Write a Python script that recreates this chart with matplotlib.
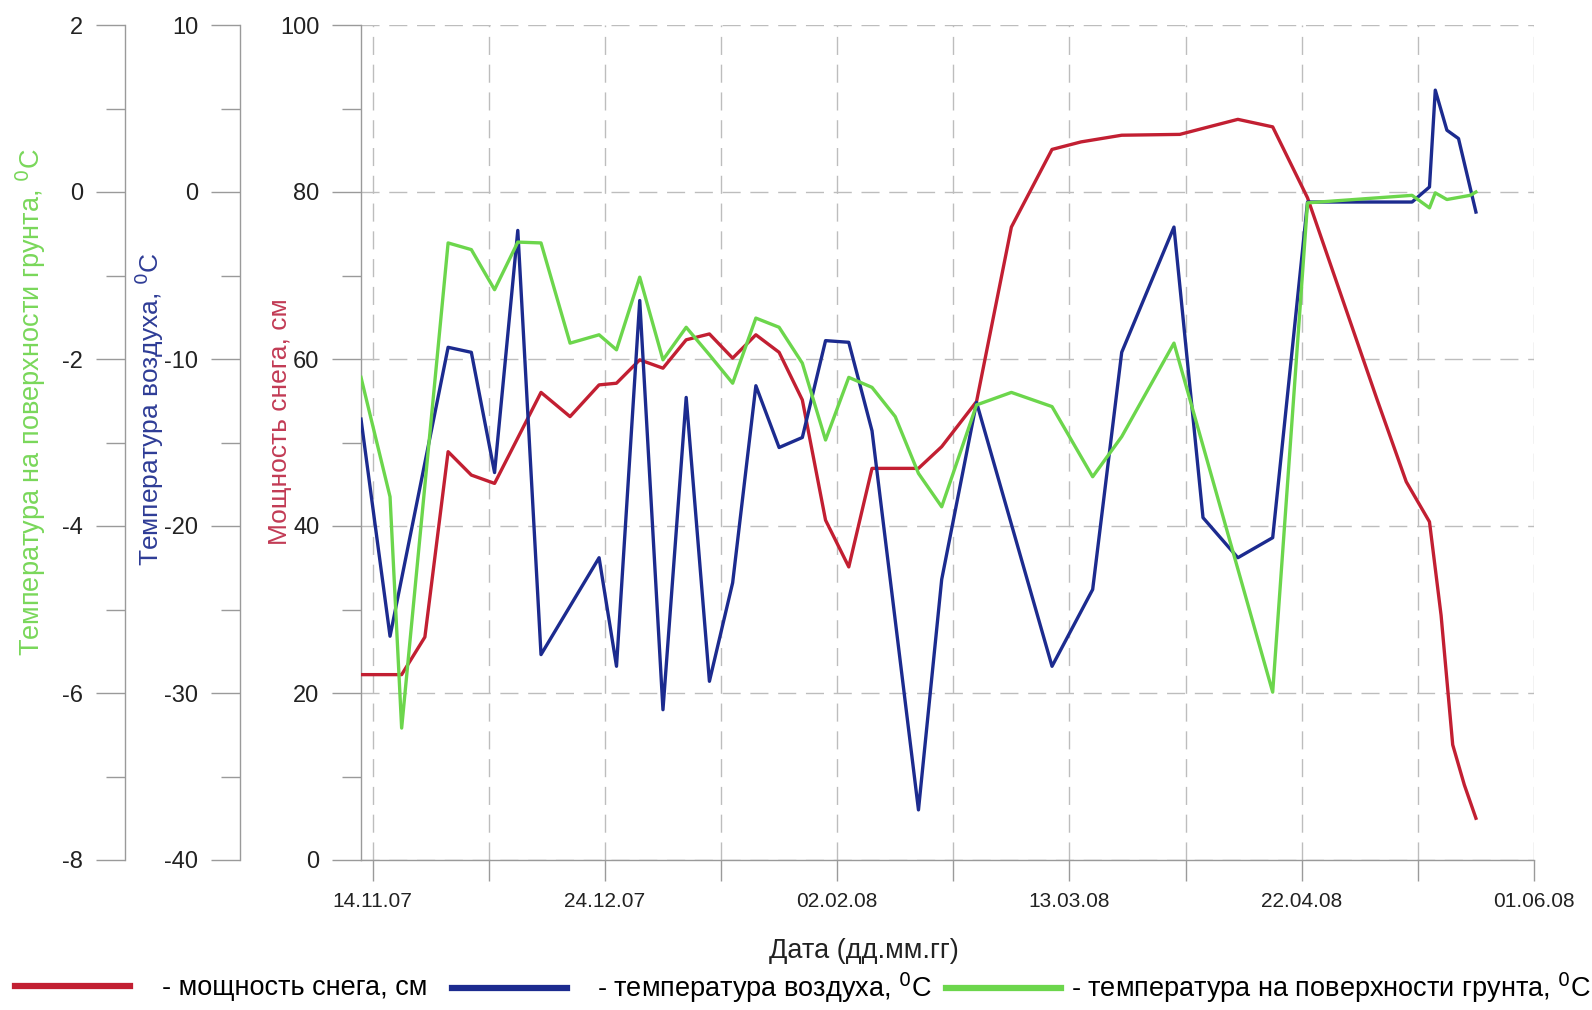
import numpy as np
import matplotlib
matplotlib.use('Agg')
import matplotlib.pyplot as plt
from datetime import datetime

plt.rcParams['font.family'] = ['Liberation Sans', 'DejaVu Sans']
plt.rcParams['axes.unicode_minus'] = False

# days counted from 14.11.2007
start = np.datetime64('2007-11-14')

snow_days = [-2, 5, 9, 13, 17, 21, 29, 34, 39, 42, 46, 50, 54, 58, 62, 66, 70, 74, 78, 82,
             86, 94, 98, 104, 110, 117, 122, 129, 139, 149, 155, 161, 173, 178, 182, 184,
             186, 188, 190]
snow_cm = [22.2, 22.2, 26.7, 48.9, 46.1, 45.1, 56.0, 53.1, 56.9, 57.1, 59.9, 58.9, 62.3, 63.0,
           60.1, 62.9, 60.8, 55.1, 40.7, 35.1, 46.9, 46.9, 49.5, 54.9, 75.8, 85.1, 86.0, 86.8,
           86.9, 88.7, 87.8, 79.3, 55.1, 45.3, 40.5, 29.3, 13.8, 9.0, 5.0]

air_days = [-2, 3, 13, 17, 21, 25, 29, 39, 42, 46, 50, 54, 58, 62, 66, 70, 74, 78, 82, 86,
            94, 98, 104, 117, 124, 129, 138, 143, 149, 155, 161, 179, 182, 183, 185, 187, 190]
air_t = [-13.6, -26.6, -9.3, -9.6, -16.8, -2.3, -27.7, -21.9, -28.4, -6.5, -31.0, -12.3,
         -29.3, -23.4, -11.6, -15.3, -14.7, -8.9, -9.0, -14.3, -37.0, -23.2, -12.6, -28.4,
         -23.8, -9.6, -2.1, -19.5, -21.9, -20.7, -0.6, -0.6, 0.3, 6.1, 3.7, 3.2, -1.2]

soil_days = [-2, 3, 5, 13, 17, 21, 25, 29, 34, 39, 42, 46, 50, 54, 58, 62, 66, 70, 74, 78,
             82, 86, 90, 94, 98, 104, 110, 117, 124, 129, 138, 155, 161, 179, 182, 183, 185,
             189, 190]
soil_t = [-2.22, -3.65, -6.42, -0.61, -0.69, -1.17, -0.60, -0.61, -1.81, -1.71, -1.89, -1.02,
          -2.01, -1.62, -1.95, -2.29, -1.51, -1.62, -2.05, -2.97, -2.22, -2.34, -2.69, -3.37,
          -3.77, -2.55, -2.40, -2.57, -3.41, -2.93, -1.81, -5.99, -0.13, -0.04, -0.19, -0.01,
          -0.09, -0.04, 0.0]

date_labels = ['14.11.07', '24.12.07', '02.02.08', '13.03.08', '22.04.08', '01.06.08']

snow_label = '- мощность снега, см'
air_label = '- температура воздуха, $^0$C'
soil_label = '- температура на поверхности грунта, $^0$C'

c_snow = '#c21f32'
c_air = '#1c2b8f'
c_soil = '#6cd64c'
c_axis = '#9a9a9a'
c_grid = '#bdbdbd'
c_text = '#222222'


def to_dates(days):
    return start + np.array(days).astype('timedelta64[D]')


W, H = 1592, 1010
fig = plt.figure(figsize=(W / 100, H / 100), dpi=100)
x0, x1, y0, y1 = 361, 1534, 25, 860
ax = fig.add_axes([x0 / W, 1 - y1 / H, (x1 - x0) / W, (y1 - y0) / H])

ticks = [datetime.strptime(s, '%d.%m.%y') for s in date_labels]
minor = [ticks[i] + (ticks[i + 1] - ticks[i]) / 2 for i in range(len(ticks) - 1)]

ax.set_xlim(to_dates([-2])[0], to_dates([200])[0])
ax.set_xticks(ticks)
ax.set_xticklabels(date_labels)
ax.set_xticks(minor, minor=True)
ax.set_ylim(0, 100)
ax.set_yticks(np.arange(0, 101, 20))
ax.set_yticks(np.arange(10, 100, 20), minor=True)

ax.grid(True, which='both', axis='x', color=c_grid, linestyle=(0, (13, 7)), linewidth=1.0)
ax.grid(True, which='major', axis='y', color=c_grid, linestyle=(0, (13, 7)), linewidth=1.0)
ax.set_axisbelow(True)

for s in ['top', 'right']:
    ax.spines[s].set_visible(False)
for s in ['left', 'bottom']:
    ax.spines[s].set_color(c_axis)
    ax.spines[s].set_linewidth(1.0)

ax.tick_params(axis='x', which='both', direction='out', length=15, width=1.0,
               color=c_axis, pad=8, labelsize=15, labelcolor=c_text)
ax.tick_params(axis='y', which='major', direction='out', length=21, width=1.0,
               color=c_axis, pad=9, labelsize=17, labelcolor=c_text)
ax.tick_params(axis='y', which='minor', direction='out', length=14, width=1.0, color=c_axis)

# air temperature and ground temperature get their own scales on the left
ax_air = ax.twinx()
ax_soil = ax.twinx()
for a, px, lim, step in [(ax_air, 240, (-40, 10), 10), (ax_soil, 125, (-8, 2), 2)]:
    a.yaxis.set_ticks_position('left')
    a.spines['left'].set_position(('axes', (px - x0) / (x1 - x0)))
    for s in ['top', 'right', 'bottom']:
        a.spines[s].set_visible(False)
    a.spines['left'].set_color(c_axis)
    a.spines['left'].set_linewidth(1.0)
    a.set_ylim(*lim)
    a.set_yticks(np.arange(lim[0], lim[1] + 0.1, step))
    a.set_yticks(np.arange(lim[0] + step / 2, lim[1], step), minor=True)
    a.tick_params(axis='y', which='major', direction='out', length=21, width=1.0,
                  color=c_axis, pad=9, labelsize=17, labelcolor=c_text)
    a.tick_params(axis='y', which='minor', direction='out', length=14, width=1.0, color=c_axis)

l_soil, = ax_soil.plot(to_dates(soil_days), soil_t, color=c_soil, lw=2.4, zorder=3)
l_air, = ax_air.plot(to_dates(air_days), air_t, color=c_air, lw=2.4, zorder=3)
l_snow, = ax.plot(to_dates(snow_days), snow_cm, color=c_snow, lw=2.4, zorder=3)

fig.text(31 / W, 1 - 402 / H, 'Температура на поверхности грунта, $^0$C', rotation=90,
         ha='center', va='center', fontsize=19.5, color='#79d75a')
fig.text(149 / W, 1 - 409 / H, 'Температура воздуха, $^0$C', rotation=90,
         ha='center', va='center', fontsize=19, color='#2e3c96')
fig.text(280 / W, 1 - 422 / H, 'Мощность снега, см', rotation=90,
         ha='center', va='center', fontsize=19, color='#c23b55')
fig.text(864 / W, 1 - 951 / H, 'Дата (дд.мм.гг)', ha='center', va='center',
         fontsize=19.5, color=c_text)

# one legend entry per series, each placed along the bottom row
for line, text, left, gap in [(l_snow, snow_label, 15, 1.18),
                              (l_air, air_label, 452, 1.12),
                              (l_soil, soil_label, 946, 0.37)]:
    leg = fig.legend([line], [text], loc='center left',
                     bbox_to_anchor=(left / W, 1 - 988 / H), frameon=False,
                     fontsize=19.5, handlelength=4.25, handletextpad=gap,
                     borderpad=0, borderaxespad=0)
    for ln in leg.get_lines():
        ln.set_linewidth(4.5)

fig.savefig('out.png', dpi=100)
